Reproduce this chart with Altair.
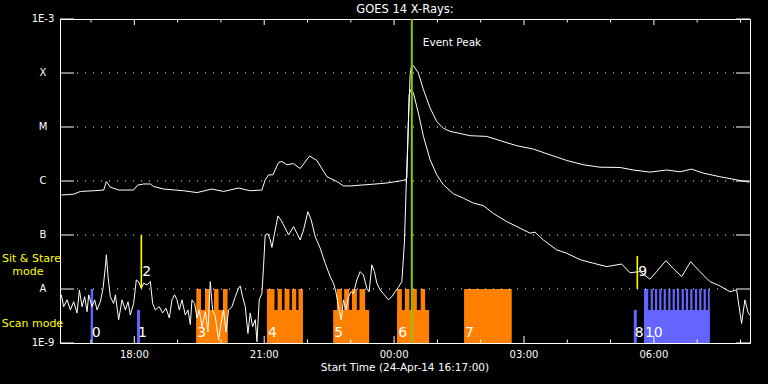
import altair as alt
import pandas as pd

# ---------------- data (time in hours since 24-Apr-14 00:00, flux in W/m^2) -------------
long_time = [16.315,16.599,16.754,17.061,17.292,17.354,17.446,17.638,17.984,18.076,18.215,18.370,
             18.446,18.676,18.946,19.138,19.447,19.793,20.061,20.407,20.677,20.947,21.023,21.100,
             21.201,21.330,21.409,21.524,21.677,21.831,22.046,22.217,22.448,22.678,22.831,22.986,
             23.332,23.793,24.140,24.255,24.294,24.331,24.370,24.393,24.446,24.561,24.677,24.832,
             24.986,25.139,25.293,25.485,25.755,26.140,26.447,26.833,27.216,27.602,27.987,28.370,
             28.755,29.217,29.524,29.909,30.294,30.602,30.872,31.140,31.525,31.911,32.202]
long_flux = [5.5e-7,5.7e-7,6.4e-7,6.6e-7,6.8e-7,9.8e-7,7.7e-7,6.8e-7,6.8e-7,8.4e-7,8.8e-7,8.8e-7,
             7.9e-7,7.1e-7,6.8e-7,6.6e-7,6.1e-7,7.1e-7,6.4e-7,7.4e-7,6.6e-7,6.8e-7,1.05e-6,1.3e-6,
             1.3e-6,2.2e-6,2.3e-6,2.0e-6,2.1e-6,1.7e-6,2.9e-6,2.4e-6,1.2e-6,9.8e-7,8.1e-7,8.1e-7,
             8.5e-7,9.1e-7,1.0e-6,1.05e-6,1.14e-6,1.26e-5,9.3e-5,1.27e-4,1.36e-4,1.0e-4,4.9e-5,2.24e-5,
             1.26e-5,9.5e-6,8.3e-6,7.7e-6,6.9e-6,6.7e-6,5.6e-6,4.5e-6,3.9e-6,3.05e-6,2.4e-6,2.0e-6,
             1.8e-6,1.78e-6,1.6e-6,1.46e-6,1.6e-6,1.48e-6,1.66e-6,1.4e-6,1.2e-6,1.05e-6,9.5e-7]

short_time = [16.315,16.368,16.447,16.523,16.599,16.678,16.731,16.793,16.853,16.909,
              16.946,17.024,17.084,17.139,17.215,17.278,17.331,17.354,17.393,17.446,
              17.522,17.562,17.638,17.716,17.793,17.855,17.908,17.984,18.046,18.099,
              18.162,18.215,18.293,18.370,18.423,18.485,18.577,18.653,18.732,18.808,
              18.870,18.930,18.986,19.039,19.101,19.177,19.240,19.293,19.332,19.392,
              19.447,19.500,19.563,19.639,19.701,19.754,19.807,19.869,19.946,20.001,
              20.061,20.117,20.177,20.255,20.331,20.407,20.446,20.500,20.562,20.624,
              20.677,20.731,20.793,20.832,20.885,20.947,20.984,21.023,21.085,21.139,
              21.178,21.238,21.317,21.393,21.485,21.561,21.677,21.755,21.831,21.908,
              22.009,22.085,22.178,22.293,22.408,22.524,22.600,22.655,22.715,22.778,
              22.831,22.886,22.946,23.008,23.062,23.140,23.216,23.292,23.371,23.424,
              23.486,23.546,23.601,23.678,23.777,23.869,23.948,24.024,24.100,24.179,
              24.239,24.278,24.318,24.348,24.382,24.446,24.561,24.677,24.832,24.986,
              25.139,25.370,25.601,25.832,26.062,26.293,26.602,26.909,27.140,27.256,
              27.447,27.756,27.987,28.294,28.601,28.910,29.256,29.447,29.678,29.909,
              30.063,30.278,30.447,30.641,30.848,31.063,31.294,31.525,31.756,31.911,
              32.026,32.103,32.179,32.218]
short_flux = [7.8e-9,4.7e-9,6.3e-9,4.1e-9,5.8e-9,3.6e-9,9.6e-9,4.7e-9,7.2e-9,3.8e-9,
              7.8e-9,4.7e-9,6.3e-9,4.1e-9,5.8e-9,1.03e-8,2.6e-8,4.3e-8,1.7e-8,7.2e-9,
              5.4e-9,7.8e-9,2.7e-9,6.3e-9,4.1e-9,5.8e-9,3.3e-9,5.4e-9,1.47e-8,1.37e-8,
              1.03e-8,1.28e-8,1.19e-8,1.37e-8,5.4e-9,4.1e-9,4.7e-9,3.6e-9,4.4e-9,2.9e-9,
              6.3e-9,7.8e-9,6.3e-9,4.1e-9,6.3e-9,3.3e-9,4.1e-9,2.2e-9,6.3e-9,5.4e-9,
              2.9e-9,4.1e-9,2.0e-9,3.8e-9,1.6e-9,1.37e-8,4.1e-9,3.1e-9,1.14e-9,2.3e-9,
              4.1e-9,1.6e-9,4.1e-9,4.7e-9,7.2e-9,1.03e-8,1.14e-8,7.2e-9,4.7e-9,1.5e-9,
              3.6e-9,2.0e-9,2.7e-9,1.06e-9,6.3e-9,8.3e-9,2.6e-8,1.0e-7,1.05e-7,8.1e-8,
              5.9e-8,1.08e-7,2.26e-7,1.85e-7,1.34e-7,1.0e-7,1.43e-7,1.08e-7,8.1e-8,1.24e-7,
              2.7e-7,1.9e-7,9.3e-8,5.7e-8,3.0e-8,1.7e-8,1.28e-8,8.9e-9,4.7e-9,2.7e-9,
              6.3e-9,4.1e-9,7.2e-9,8.9e-9,8.3e-9,1.47e-8,2.1e-8,1.82e-8,1.03e-8,8.9e-9,
              2.8e-8,2.1e-8,1.28e-8,9.6e-9,7.8e-9,6.3e-9,7.2e-9,8.9e-9,1.08e-8,1.37e-8,
              7.5e-8,7.4e-7,6.2e-6,3.95e-5,4.9e-5,4.25e-5,1.81e-5,6.7e-6,2.47e-6,1.3e-6,
              8.5e-7,5.8e-7,4.8e-7,3.9e-7,3.5e-7,2.5e-7,1.77e-7,1.34e-7,1.08e-7,1.13e-7,
              8.1e-8,5.3e-8,4.6e-8,3.5e-8,3.0e-8,2.6e-8,2.9e-8,2.0e-8,2.1e-8,1.52e-8,
              2.1e-8,3.35e-8,2.4e-8,1.7e-8,3.2e-8,2.1e-8,1.37e-8,1.14e-8,8.9e-9,9.6e-9,
              2.3e-9,6.3e-9,3.6e-9,3.3e-9]

# observing blocks (base part) and their raster "teeth"
block_start = [16.992, 18.063, 19.431, 21.063, 22.593, 24.070, 25.616, 29.536, 29.771]
block_end   = [17.047, 18.132, 20.153, 21.894, 23.424, 24.809, 26.717, 29.605, 31.290]
block_top   = [1e-8, 4.1e-9, 4.1e-9, 4.1e-9, 4.1e-9, 4.1e-9, 1e-8, 4.1e-9, 4.1e-9]
block_kind  = ["other", "other", "scan", "scan", "scan", "scan", "scan", "other", "other"]

tooth_start = [19.431, 19.632, 19.840, 20.048,
               21.063, 21.308, 21.469, 21.640, 21.792,
               22.678, 22.847, 23.025, 23.200,
               24.070, 24.248, 24.423, 24.613,
               29.771, 29.926, 30.025, 30.124, 30.226, 30.332, 30.433, 30.533,
               30.641, 30.740, 30.840, 30.948, 31.047, 31.149, 31.248]
tooth_end   = [19.540, 19.738, 19.946, 20.153,
               21.238, 21.409, 21.584, 21.739, 21.894,
               22.794, 22.963, 23.140, 23.332,
               24.179, 24.354, 24.525, 24.717,
               29.870, 29.977, 30.076, 30.175, 30.277, 30.383, 30.484, 30.584,
               30.692, 30.791, 30.891, 30.999, 31.098, 31.200, 31.290]
tooth_kind  = ["scan"] * 17 + ["other"] * 15
tooth_top = 1e-8

# sit & stare markers
sns_time = [18.162, 29.617]
sns_low = [1.03e-8, 1.0e-8]
sns_high = [1.0e-7, 4.1e-8]

# event numbers
event_label = ["0", "1", "2", "3", "4", "5", "6", "7", "8", "9", "10"]
event_time = [16.992, 18.063, 18.162, 19.431, 21.063, 22.593, 24.070, 25.616, 29.536, 29.617, 29.771]
event_level = [1.5e-9, 1.5e-9, 2.1e-8, 1.5e-9, 1.5e-9, 1.5e-9, 1.5e-9, 1.5e-9, 1.5e-9, 2.1e-8, 1.5e-9]

peak_time = 24.409

decade_label = ["1E-9", "A", "B", "C", "M", "X", "1E-3"]
decade_flux = [1e-9, 1e-8, 1e-7, 1e-6, 1e-5, 1e-4, 1e-3]
grid_flux = [1e-8, 1e-7, 1e-6, 1e-5, 1e-4]

major_hours = [18, 21, 24, 27, 30]
major_labels = ["18:00", "21:00", "00:00", "03:00", "06:00"]
minor_hours = [17, 19, 20, 22, 23, 25, 26, 28, 29, 31, 32]

# ---------------- chart ----------------
W, H = 690, 324
FONT = "DejaVu Sans"
xs = alt.Scale(domain=[16.2833, 32.22], nice=False, zero=False)
ys = alt.Scale(type="log", domain=[1e-9, 1e-3], nice=False)

kind_color = alt.Color("kind:N", scale=alt.Scale(domain=["scan", "other"], range=["#ff8000", "#6464ff"]), legend=None)

blocks = pd.DataFrame({"start": block_start, "end": block_end, "top": block_top, "kind": block_kind})
teeth = pd.DataFrame({"start": tooth_start, "end": tooth_end, "kind": tooth_kind, "top": [tooth_top] * len(tooth_start)})

block_layer = alt.Chart(blocks).mark_rect(opacity=1).encode(
    x=alt.X("start:Q", scale=xs, axis=None), x2="end:Q",
    y=alt.Y("top:Q", scale=ys, axis=None), y2=alt.datum(1e-9), color=kind_color)
teeth_layer = alt.Chart(teeth).mark_rect(opacity=1).encode(
    x=alt.X("start:Q", scale=xs, axis=None), x2="end:Q",
    y=alt.Y("top:Q", scale=ys, axis=None), y2=alt.datum(1e-9), color=kind_color)

grid_df = pd.DataFrame({"flux": grid_flux})
dec_df = pd.DataFrame({"flux": decade_flux, "label": decade_label})
grid_layer = alt.Chart(grid_df).mark_rule(color="white", strokeDash=[1, 7], strokeWidth=1).encode(
    y=alt.Y("flux:Q", scale=ys, axis=None), x=alt.value(17), x2=alt.value(676))
lt_layer = alt.Chart(dec_df).mark_rule(color="white").encode(
    y=alt.Y("flux:Q", scale=ys, axis=None), x=alt.value(0), x2=alt.value(14))
rt_layer = alt.Chart(dec_df).mark_rule(color="white").encode(
    y=alt.Y("flux:Q", scale=ys, axis=None), x=alt.value(676), x2=alt.value(690))
ylab_layer = alt.Chart(dec_df).mark_text(color="white", font=FONT, fontSize=10, align="center",
                                         baseline="middle").encode(
    y=alt.Y("flux:Q", scale=ys, axis=None), x=alt.value(-17), text="label:N")

maj_df = pd.DataFrame({"hour": major_hours, "label": major_labels})
min_df = pd.DataFrame({"hour": minor_hours})
def xtick(df, y0, y1):
    return alt.Chart(df).mark_rule(color="white").encode(
        x=alt.X("hour:Q", scale=xs, axis=None), y=alt.value(y0), y2=alt.value(y1))
xt_layers = [xtick(maj_df, 0, 6), xtick(min_df, 0, 3.5), xtick(maj_df, H, H - 7), xtick(min_df, H, H - 3.5)]
xlab_layer = alt.Chart(maj_df).mark_text(color="white", font=FONT, fontSize=10, align="center",
                                         baseline="middle").encode(
    x=alt.X("hour:Q", scale=xs, axis=None), y=alt.value(H + 12), text="label:N")

long_df = pd.DataFrame({"time": long_time, "flux": long_flux})
short_df = pd.DataFrame({"time": short_time, "flux": short_flux})

long_layer = alt.Chart(long_df).mark_line(color="white", strokeWidth=1).encode(
    x=alt.X("time:Q", scale=xs, axis=None), y=alt.Y("flux:Q", scale=ys, axis=None))
short_layer = alt.Chart(short_df).mark_line(color="white", strokeWidth=1).encode(
    x=alt.X("time:Q", scale=xs, axis=None), y=alt.Y("flux:Q", scale=ys, axis=None))

sns_df = pd.DataFrame({"time": sns_time, "low": sns_low, "high": sns_high})
sns_layer = alt.Chart(sns_df).mark_rule(color="#ffff00", strokeWidth=1.6).encode(
    x=alt.X("time:Q", scale=xs, axis=None), y=alt.Y("low:Q", scale=ys, axis=None), y2="high:Q")

peak_df = pd.DataFrame({"time": [peak_time]})
peak_layer = alt.Chart(peak_df).mark_rule(color="#8cc800", strokeWidth=2).encode(
    x=alt.X("time:Q", scale=xs, axis=None))
peak_text = alt.Chart(peak_df).mark_text(text="Event Peak", align="left", baseline="middle", dx=11,
                                          color="white", font=FONT, fontSize=10.5).encode(
    x=alt.X("time:Q", scale=xs, axis=None), y=alt.value(24))

ev_df = pd.DataFrame({"label": event_label, "time": event_time, "level": event_level})
ev_layer = alt.Chart(ev_df).mark_text(align="left", baseline="middle", dx=1, color="white",
                                      font=FONT, fontSize=14).encode(
    x=alt.X("time:Q", scale=xs, axis=None), y=alt.Y("level:Q", scale=ys, axis=None), text="label:N")

one = alt.Data(values=[{}])
def note(txt, x, y, color="white", size=10, align="left"):
    return alt.Chart(one).mark_text(text=txt, align=align, baseline="middle", color=color,
                                    font=FONT, fontSize=size).encode(x=alt.value(x), y=alt.value(y))

notes = [
    note("GOES 14 X-Rays:", W / 2, -9.5, size=11.5, align="center"),
    note("Start Time (24-Apr-14 16:17:00)", W / 2, H + 25, size=10.5, align="center"),
    note("Sit & Stare", -58, 239.5, color="#ffff00", size=11),
    note("mode", -47.7, 252.5, color="#ffff00", size=11),
    note("Scan mode", -58.3, 305, color="#ffff00", size=11),
]

chart = alt.layer(
    block_layer, teeth_layer, grid_layer, lt_layer, rt_layer, ylab_layer, *xt_layers, xlab_layer,
    long_layer, short_layer, sns_layer, peak_layer, peak_text, ev_layer, *notes
).properties(
    width=W, height=H,
    padding={"left": 60, "top": 19, "right": 18, "bottom": 41},
    autosize=alt.AutoSizeParams(type="none"),
).configure(background="black", font=FONT).configure_view(stroke="white", strokeWidth=1)

chart.save("out.html", embed_options={"renderer": "svg", "actions": False})
